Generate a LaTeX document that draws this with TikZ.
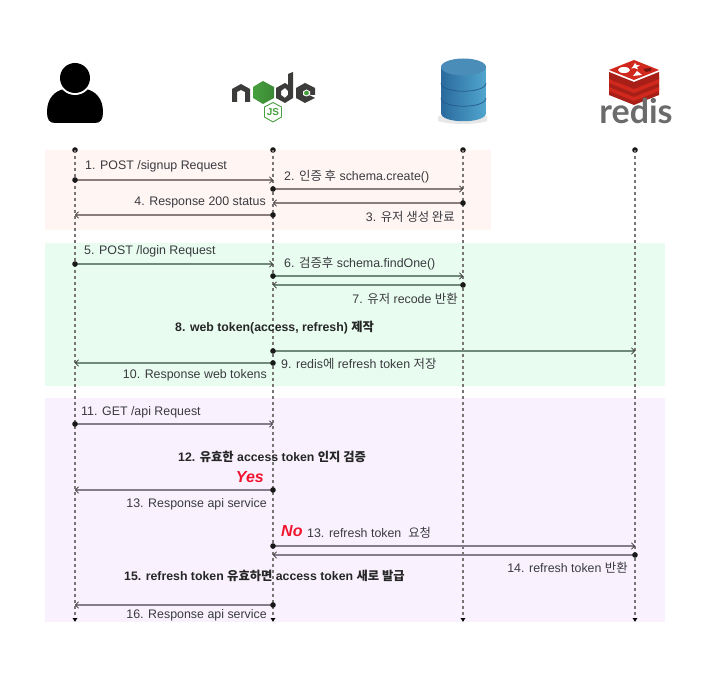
\documentclass[tikz,border=0pt]{standalone}
\usepackage{fontspec}
\usetikzlibrary{arrows.meta}
\setmainfont{Liberation Sans}
\newfontfamily\kr{Noto Sans CJK KR}
\newfontfamily\rfont{Lato}
\definecolor{bandA}{HTML}{FFF6F3}
\definecolor{bandB}{HTML}{E8FDF0}
\definecolor{bandC}{HTML}{F9F2FE}
\definecolor{lineC}{HTML}{7A7575}
\definecolor{lineG}{HTML}{6F8A78}
\definecolor{lineP}{HTML}{857C8C}
\definecolor{lineR}{HTML}{8A7D7A}
\definecolor{txt}{HTML}{3A3A40}
\definecolor{nodeDark}{HTML}{3C3C3A}
\definecolor{nodeGreen}{HTML}{46A03E}
\definecolor{redisA}{HTML}{D1281E}
\definecolor{redisB}{HTML}{A81F17}
\definecolor{redisG}{HTML}{6B6B6B}
\definecolor{dbL}{HTML}{2A6A9E}
\definecolor{dbR}{HTML}{51A6CE}
\definecolor{dbT}{HTML}{4A8DB8}
\definecolor{dbE}{HTML}{24598A}
\definecolor{flagred}{HTML}{F0142F}
\tikzset{
 x=1pt,y=-1pt,
 band/.style={draw=none},
 life/.style={draw=lineC,line width=1.2pt,dash pattern=on 3pt off 3pt,-{Latex[length=4pt,width=5.5pt,black]}},
 dotn/.style={circle,fill=black!90,inner sep=0,minimum size=5.6pt},
 msg/.style={line width=1.4pt,-{Straight Barb[length=3.2pt,width=6.5pt,black!80,line width=.7pt]}},
 lbl/.style={font=\fontsize{12.4pt}{14pt}\selectfont,text=txt,inner sep=0,anchor=west,yshift=-0.7pt},
 lblb/.style={font=\fontsize{12.3pt}{14pt}\selectfont\bfseries,text=black!85,inner sep=0,anchor=west},
 flag/.style={font=\fontsize{16pt}{18pt}\selectfont\bfseries\itshape,text=flagred,inner sep=0},
}
\begin{document}
\begin{tikzpicture}
\useasboundingbox (0,0) rectangle (726,676);
\fill[white] (0,0) rectangle (726,676);
% bands
\node[band,fill=bandA,inner sep=0,anchor=north west,minimum width=446pt,minimum height=80pt] (bandSignup) at (45,150) {};
\node[band,fill=bandB,inner sep=0,anchor=north west,minimum width=620pt,minimum height=143pt] (bandLogin) at (45,243) {};
\node[band,fill=bandC,inner sep=0,anchor=north west,minimum width=620pt,minimum height=224pt] (bandApi) at (45,398) {};
% person icon
\fill[black] (47,112) .. controls (47,98) and (55,91) .. (64,89) .. controls (70,95) and (80,95) .. (86,89) .. controls (95,91) and (103,98) .. (103,112) .. controls (103,119) and (101,123) .. (95,123) -- (55,123) .. controls (49,123) and (47,119) .. (47,112) -- cycle;
\fill[white] (75,78) circle (17);
\fill[black] (75,78) circle (15);
% node logo
\fill[nodeDark] (232,102) -- (232,89) -- (241,84) -- (250,89) -- (250,102) -- (245,102) -- (245,92) -- (241,90) -- (237,92) -- (237,102) -- cycle;
\shade[left color=nodeGreen,right color=nodeGreen!85!black] (263,81) -- (274,87) -- (274,98) -- (263,104) -- (253,98) -- (253,87) -- cycle;
\fill[nodeDark,even odd rule] (293,72) -- (293,98) -- (285,103) -- (276,98) -- (276,88) -- (285,83) -- (288,85) -- (288,74) -- cycle (285,88) -- (281,91) -- (281,95) -- (285,98) -- (288,95) -- (288,91) -- cycle;
\fill[nodeDark] (296,88) -- (305,83) -- (315,88) -- (315,95) -- (309,95) -- (315,98) -- (305,103) -- (296,98) -- cycle;
\fill[white] (306.5,89.5) -- (310,91.5) -- (310,95) -- (306.5,96.5) -- (303,95) -- (303,91.5) -- cycle;
\fill[nodeGreen] (306.5,93) circle (2.4);
\draw[nodeGreen,line width=.9pt,line join=round] (273,102.5) -- (281.5,107) -- (281.5,117) -- (273,122) -- (264.5,117) -- (264.5,107) -- cycle;
\node[inner sep=0,font=\fontsize{10pt}{10pt}\selectfont\bfseries,text=nodeGreen] (jsText) at (273,112.5) {JS};
% database
\fill[black!30,opacity=.3] (438,116) -- (438,121) .. controls (450,125) and (476,125) .. (487,121) -- (487,116) -- cycle;
\shade[left color=dbL,right color=dbR] (441,67) -- (441,113) .. controls (441,124) and (486,124) .. (486,113) -- (486,67) -- cycle;
\fill[dbT] (463.5,67) ellipse (22.5 and 8.5);
\draw[dbE,line width=.7pt] (441,83) .. controls (441,94) and (486,94) .. (486,83);
\draw[dbE,line width=.7pt] (441,98) .. controls (441,109) and (486,109) .. (486,98);
% redis logo
\fill[redisB] (609,87) -- (634,97) -- (659,87) -- (659,95) -- (634,105) -- (609,95) -- cycle;
\fill[redisA] (609,85) -- (634,95) -- (659,85) -- (659,91) -- (634,101) -- (609,91) -- cycle;
\fill[redisB] (609,79) -- (634,89) -- (659,79) -- (659,87) -- (634,97) -- (609,87) -- cycle;
\fill[redisA] (609,77) -- (634,87) -- (659,77) -- (659,83) -- (634,93) -- (609,83) -- cycle;
\fill[redisB] (609,72) -- (634,82) -- (659,72) -- (659,79) -- (634,89) -- (609,79) -- cycle;
\fill[redisA] (634,60) -- (659,70) -- (634,80) -- (609,70) -- cycle;
\fill[white] (624,70) ellipse (6 and 3);
\fill[white] (635,63) -- (636.5,65) -- (640,65.5) -- (637,67) -- (638,69.5) -- (634.5,68) -- (631,68.5) -- (633,66.5) -- cycle;
\fill[white] (637,71) -- (633,76) -- (642,75) -- cycle;
\fill[redisB!70!black] (643,69) -- (651,68) -- (651,71) -- (646,72) -- cycle;
\node[inner sep=0,font=\rfont\bfseries\fontsize{34pt}{36pt}\selectfont,text=redisG] (redisText) at (636,111) {redis};
% lifelines
\foreach \nm/\xx in {user/75,server/273,db/463,cache/635}{
  \node[dotn] (\nm Top) at (\xx,150) {};
  \coordinate (\nm Bot) at (\xx,622);
  \draw[life] (\nm Top.center) -- (\nm Bot);
}
% messages
\foreach \nm/\xx/\yy in {
 a1/75/180,a1e/273/180,a2/273/189,a2e/463/189,a3/463/203,a3e/273/203,a4/273/215,a4e/75/215,
 a5/75/264,a5e/273/264,a6/273/276,a6e/463/276,a7/463/285,a7e/273/285,a9/273/351,a9e/635/351,a10/273/363,a10e/75/363,
 a11/75/424,a11e/273/424,a13/273/490,a13e/75/490,a14/273/546,a14e/635/546,a15/635/555,a15e/273/555,a16/273/605,a16e/75/605}{
 \coordinate (\nm) at (\xx,\yy);
}
\foreach \s/\e/\c in {a1/a1e/lineR,a2/a2e/lineR,a3/a3e/lineR,a4/a4e/lineR,a5/a5e/lineG,a6/a6e/lineG,a7/a7e/lineG,a9/a9e/lineG,a10/a10e/lineG,a11/a11e/lineP,a13/a13e/lineP,a14/a14e/lineP,a15/a15e/lineP,a16/a16e/lineP}{
 \draw[msg,draw=\c] (\s) -- (\e);
 \node[dotn] (\s dot) at (\s) {};
}
% labels
\node[lbl] (t1) at (85,166) {1. POST /signup Request};
\node[lbl] (t2) at (284,176) {2. {\kr 인증 후} schema.create()};
\node[lbl,anchor=east] (t3) at (455,216) {3. {\kr 유저 생성 완료}};
\node[lbl,anchor=east] (t4) at (266,202) {4. Response 200 status};
\node[lbl] (t5) at (84,251) {5. POST /login Request};
\node[lbl] (t6) at (284,263) {6. {\kr 검증후} schema.findOne()};
\node[lbl,anchor=east] (t7) at (458,298) {7. {\kr 유저} recode {\kr 반환}};
\node[lblb] (t8) at (175,328) {8. web token(access, refresh) {\kr\bfseries 제작}};
\node[lbl] (t9) at (281,363) {9. redis{\kr 에} refresh token {\kr 저장}};
\node[lbl,anchor=east] (t10) at (267,375) {10. Response web tokens};
\node[lbl] (t11) at (81,412) {11. GET /api Request};
\node[lblb] (t12) at (178,457) {12. {\kr\bfseries 유효한} access token {\kr\bfseries 인지 검증}};
\node[flag,anchor=east] (tYes) at (264,477) {Yes};
\node[lbl,anchor=east] (t13) at (267,504) {13. Response api service};
\node[flag,anchor=west] (tNo) at (281,531) {No};
\node[lbl] (t13b) at (307,532) {13. refresh token\ \ {\kr 요청}};
\node[lbl,anchor=east] (t14) at (628,567) {14. refresh token {\kr 반환}};
\node[lblb] (t15) at (124,576) {15. refresh token {\kr\bfseries 유효하면} access token {\kr\bfseries 새로 발급}};
\node[lbl,anchor=east] (t16) at (267,615) {16. Response api service};
\end{tikzpicture}
\end{document}
